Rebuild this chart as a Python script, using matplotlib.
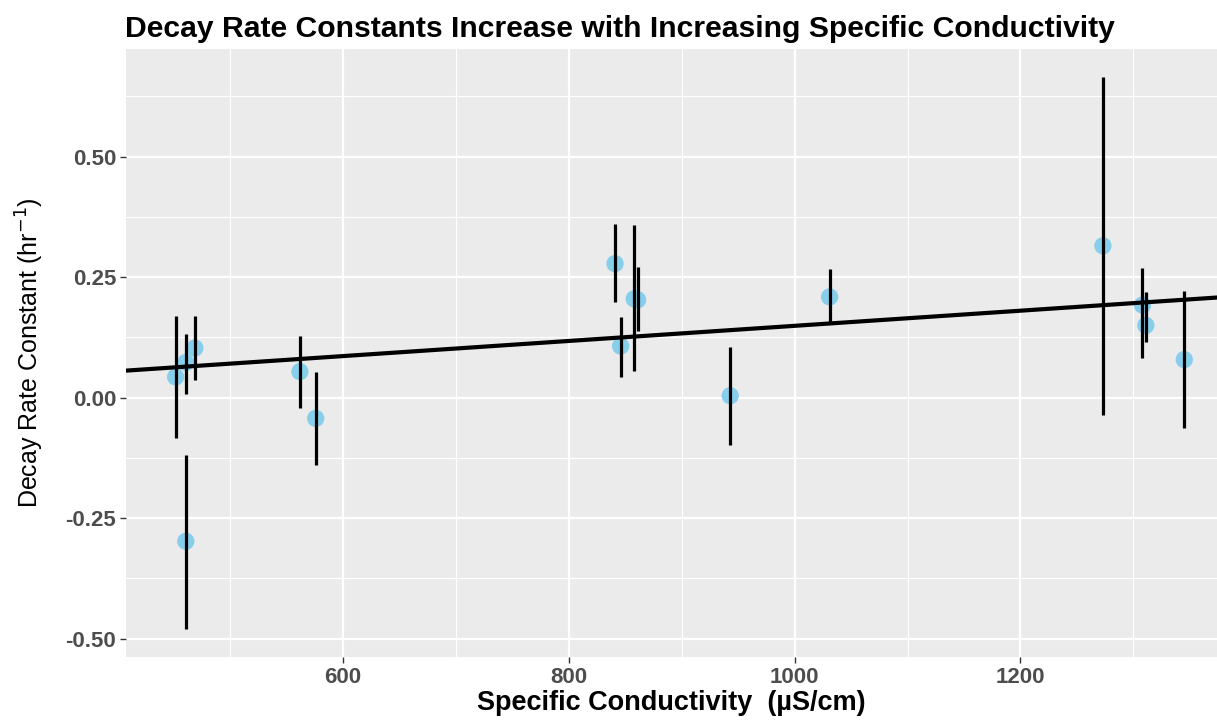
import numpy as np
import matplotlib
matplotlib.use("Agg")
import matplotlib.pyplot as plt

# valores
cond = [452, 461, 469, 461, 562, 576, 841, 846, 858, 861, 943, 1031, 1273, 1308, 1311, 1345]
k_decay = [0.043, 0.073, 0.103, -0.298, 0.054, -0.043, 0.278, 0.107, 0.205, 0.203,
           0.004, 0.209, 0.315, 0.192, 0.150, 0.079]
k_low = [-0.083, 0.007, 0.036, -0.480, -0.022, -0.139, 0.199, 0.043, 0.055, 0.139,
         -0.099, 0.155, -0.036, 0.083, 0.116, -0.062]
k_high = [0.170, 0.133, 0.170, -0.118, 0.128, 0.054, 0.361, 0.168, 0.359, 0.271,
          0.105, 0.267, 0.666, 0.269, 0.220, 0.221]

# reta de regressão
fit_slope = 0.000157
fit_intercept = -0.008

x_ticks = [600, 800, 1000, 1200]
y_ticks = [-0.50, -0.25, 0.00, 0.25, 0.50]

plt.rcParams['font.family'] = ['Liberation Sans', 'DejaVu Sans']

fig = plt.figure(figsize=(12.17, 7.21), dpi=100)
ax = fig.add_axes([0.1035, 0.0888, 0.8965, 0.8437])

ax.set_facecolor('#EBEBEB')
for s in ax.spines.values():
    s.set_visible(False)

ax.set_xlim(408, 1374)
ax.set_ylim(-0.538, 0.724)

ax.set_xticks(x_ticks)
ax.set_yticks(y_ticks)
ax.set_yticklabels(['%.2f' % v for v in y_ticks])
ax.set_xticks([500, 700, 900, 1100, 1300], minor=True)
ax.set_yticks([-0.375, -0.125, 0.125, 0.375, 0.625], minor=True)
ax.grid(which='major', color='white', linewidth=1.6)
ax.grid(which='minor', color='white', linewidth=0.8)
ax.set_axisbelow(True)
ax.tick_params(which='major', length=4, width=1, color='#333333', labelcolor='#4D4D4D',
               labelsize=16, pad=3)
ax.tick_params(which='minor', length=0)
for lab in ax.get_xticklabels() + ax.get_yticklabels():
    lab.set_fontweight('bold')

ax.scatter(cond, k_decay, s=155, color='#87CEEB', edgecolors='none', zorder=2)

x = np.array(cond)
yerr = [np.array(k_decay) - np.array(k_low), np.array(k_high) - np.array(k_decay)]
ax.errorbar(x, k_decay, yerr=yerr, fmt='none', ecolor='black', elinewidth=2.3,
            capsize=0, zorder=3)

xs = np.array(ax.get_xlim())
ax.plot(xs, fit_intercept + fit_slope * xs, color='black', linewidth=3, zorder=4)

fig.text(0.1027, 0.960, 'Decay Rate Constants Increase with Increasing Specific Conductivity',
         fontsize=21.7, fontweight='bold', ha='left', va='center')
ax.set_xlabel('Specific Conductivity  (µS/cm)', fontsize=19.5, fontweight='bold', labelpad=2)
ax.set_ylabel('Decay Rate Constant (hr$^{-1}$)', fontsize=18, labelpad=14)

fig.savefig('out.png', dpi=100)
